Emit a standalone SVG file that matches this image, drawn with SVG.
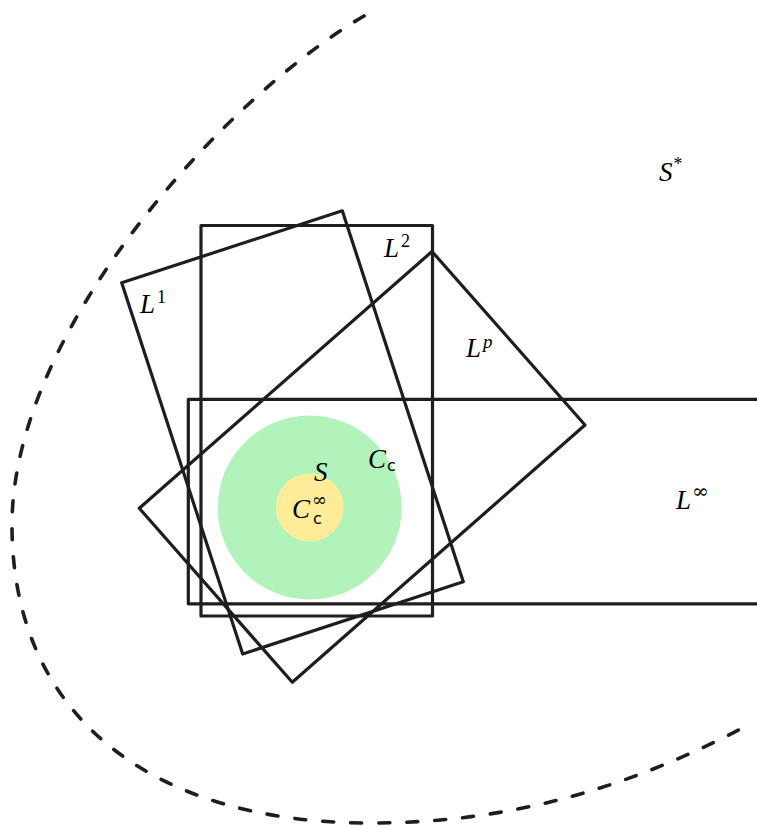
<svg xmlns="http://www.w3.org/2000/svg" width="757" height="826" viewBox="0 0 757 826">
<style>
.set{fill:none;stroke:#1e1e1e;stroke-width:3.2;stroke-linejoin:round;stroke-linecap:round}
.dash{fill:none;stroke:#1e1e1e;stroke-width:3.6;stroke-linecap:round;stroke-dasharray:11 17}
.m{font-family:"Liberation Serif","Times New Roman",serif;font-style:italic;font-size:27px;fill:#000}
.sup{font-family:"Liberation Serif","Times New Roman",serif;font-style:normal;font-size:18px}
.supi{font-family:"Liberation Serif","Times New Roman",serif;font-style:italic;font-size:19px}
.inf{font-family:"DejaVu Serif","Liberation Serif",serif;font-style:normal;font-size:20px}
.inf2{font-family:"DejaVu Serif","Liberation Serif",serif;font-style:normal;font-size:18px}
.sub{font-family:"DejaVu Sans","Liberation Sans",sans-serif;font-style:normal;font-size:16px}
</style>
<rect width="757" height="826" fill="#ffffff"/>
<g id="S-star">
<path class="dash" d="M364,16 C225.8,96.6 12,330 12,525 C12,715 150,823 370,823 C500,823 620,793.5 752,723"/>
<text class="m" x="659" y="181">S<tspan class="sup" dx="1" dy="-11">*</tspan></text>
</g>
<g id="L2">
<rect class="set" x="201" y="225.5" width="231.5" height="390.5"/>
<text class="m" x="384" y="257">L<tspan class="sup" dx="2" dy="-10">2</tspan></text>
</g>
<g id="L1">
<polygon class="set" points="121.7,282.7 342.3,210.8 463.3,581.7 242.7,654"/>
<text class="m" x="140" y="313">L<tspan class="sup" dx="2" dy="-10">1</tspan></text>
</g>
<g id="Lp">
<polygon class="set" points="432,251.5 585,425 292.3,682.3 139.3,508.3"/>
<text class="m" x="466" y="357">L<tspan class="supi" dx="2" dy="-9">p</tspan></text>
</g>
<g id="Linf">
<path class="set" d="M757,399.3 H188.3 V603.8 H757"/>
<text class="m" x="676" y="509">L<tspan class="inf" dx="1" dy="-11">∞</tspan></text>
</g>
<g id="Cc">
<circle cx="309.7" cy="507.5" r="92" fill="#b2f2bb"/>
<text class="m" x="368" y="468">C<tspan class="sub" dx="1" dy="3">c</tspan></text>
</g>
<g id="Cc-inf">
<circle cx="309.7" cy="507.5" r="34" fill="#ffec99"/>
<text class="m" x="292" y="518">C<tspan class="inf2" x="312" y="506">∞</tspan><tspan class="sub" x="313" y="524">c</tspan></text>
</g>
<g id="S">
<text class="m" x="314" y="481">S</text>
</g>
</svg>
